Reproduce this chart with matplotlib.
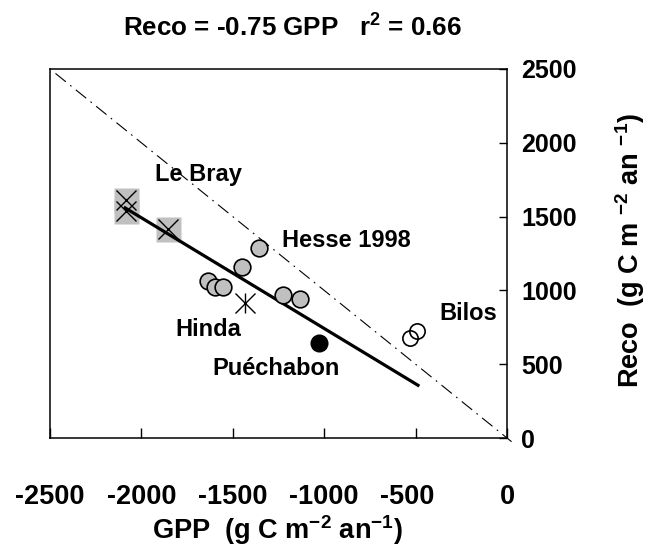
import numpy as np
import matplotlib
matplotlib.use("Agg")
import matplotlib.pyplot as plt
import matplotlib.transforms as mtransforms

plt.rcParams['font.family'] = ['Liberation Sans', 'DejaVu Sans']
plt.rcParams['font.weight'] = 'bold'
plt.rcParams['mathtext.fontset'] = 'custom'
plt.rcParams['mathtext.rm'] = 'Liberation Sans:bold'
plt.rcParams['mathtext.bf'] = 'Liberation Sans:bold'
plt.rcParams['mathtext.default'] = 'bf'
plt.rcParams['axes.unicode_minus'] = False

# Sites et valeurs (GPP négatif, Reco positif), g C m-2 an-1
lebray_gpp = [-2084, -2084, -1852]
lebray_reco = [1612, 1538, 1414]

hesse_gpp = [-1356, -1451, -1637, -1597, -1555, -1223, -1135]
hesse_reco = [1289, 1161, 1066, 1025, 1025, 967, 940]

hinda_gpp = [-1433]
hinda_reco = [912]

puech_gpp = [-1031]
puech_reco = [641]

bilos_gpp = [-493, -529]
bilos_reco = [725, 675]

# Régression : Reco = -0.75 GPP
slope = -0.75
intercept = -8

# Étiquettes
site_labels = ["Le Bray", "Hesse 1998", "Bilos", "Hinda", "Puéchabon"]
label_x = [-1690, -880, -210, -1633, -1263]
label_y = [1782, 1341, 845, 736, 472]

xticks = [-2500, -2000, -1500, -1000, -500, 0]
yticks = [0, 500, 1000, 1500, 2000, 2500]

fig = plt.figure(figsize=(6.69, 5.56), dpi=100)
ax = fig.add_axes([50/669, 1-438/556, 457/669, 369/556])

grey = '#c0c0c0'

# droite 1:1 (Reco = -GPP)
x11 = np.array([-2470, 25])
ax.plot(x11, -x11, color='black', lw=0.8, dashes=(12, 5, 1.5, 5), clip_on=False, zorder=1)

# droite de régression
all_gpp = lebray_gpp + hesse_gpp + hinda_gpp + puech_gpp + bilos_gpp
xr = np.array([min(all_gpp) - 5, max(all_gpp) + 6])
ax.plot(xr, slope * xr + intercept, color='black', lw=2.3, zorder=3)

# Le Bray : carré gris + croix
ax.plot(lebray_gpp, lebray_reco, 's', ms=18, mfc=grey, mec='none', zorder=2)
ax.plot(lebray_gpp, lebray_reco, 'x', ms=15, mec='black', mew=1.0, zorder=4)

# Hesse : cercles gris
ax.plot(hesse_gpp, hesse_reco, 'o', ms=12, mfc=grey, mec='black', mew=1.2, zorder=4)

# Hinda : astérisque
ax.plot(hinda_gpp, hinda_reco, 'x', ms=14, mec='black', mew=1.0, zorder=4)
ax.plot(hinda_gpp, hinda_reco, '|', ms=15, mec='black', mew=1.0, zorder=4)

# Puéchabon : cercle noir
ax.plot(puech_gpp, puech_reco, 'o', ms=12, mfc='black', mec='black', zorder=4)

# Bilos : cercles vides
ax.plot(bilos_gpp, bilos_reco, 'o', ms=11, mfc='none', mec='black', mew=1.2, zorder=4)

for lab, lx, ly in zip(site_labels, label_x, label_y):
    ax.text(lx, ly, lab, ha='center', va='center', fontsize=17, fontweight='bold')

ax.set_xlim(-2500, 0)
ax.set_ylim(0, 2500)
ax.set_xticks(xticks)
ax.set_xticklabels([str(v) for v in xticks])
ax.set_yticks(yticks)
ax.set_yticklabels([str(v) for v in yticks])
ax.yaxis.tick_right()
ax.tick_params(axis='x', direction='in', length=7, width=1, pad=33, labelsize=19.5)
ax.tick_params(axis='y', direction='in', length=6, width=1, pad=10, labelsize=18)
for sp in ax.spines.values():
    sp.set_linewidth(1.1)

# le "-500" est un peu décalé vers la gauche dans l'original
lbl = ax.get_xticklabels()[4]
lbl.set_transform(lbl.get_transform() + mtransforms.ScaledTranslation(-0.08, 0, fig.dpi_scale_trans))

fig.text(292/669, 1-28/556, "Reco = -0.75 GPP   r$^2$ = 0.66", ha='center', va='center', fontsize=18.7)
fig.text(277/669, 1-530/556, "GPP  (g C m$^{-2}$ an$^{-1}$)", ha='center', va='center', fontsize=19.5)
fig.text(630/669, 1-251/556, "Reco  (g C m $^{-2}$ an $^{-1}$)", ha='center', va='center', rotation=90, fontsize=19.5)

fig.savefig("out.png", dpi=100)
